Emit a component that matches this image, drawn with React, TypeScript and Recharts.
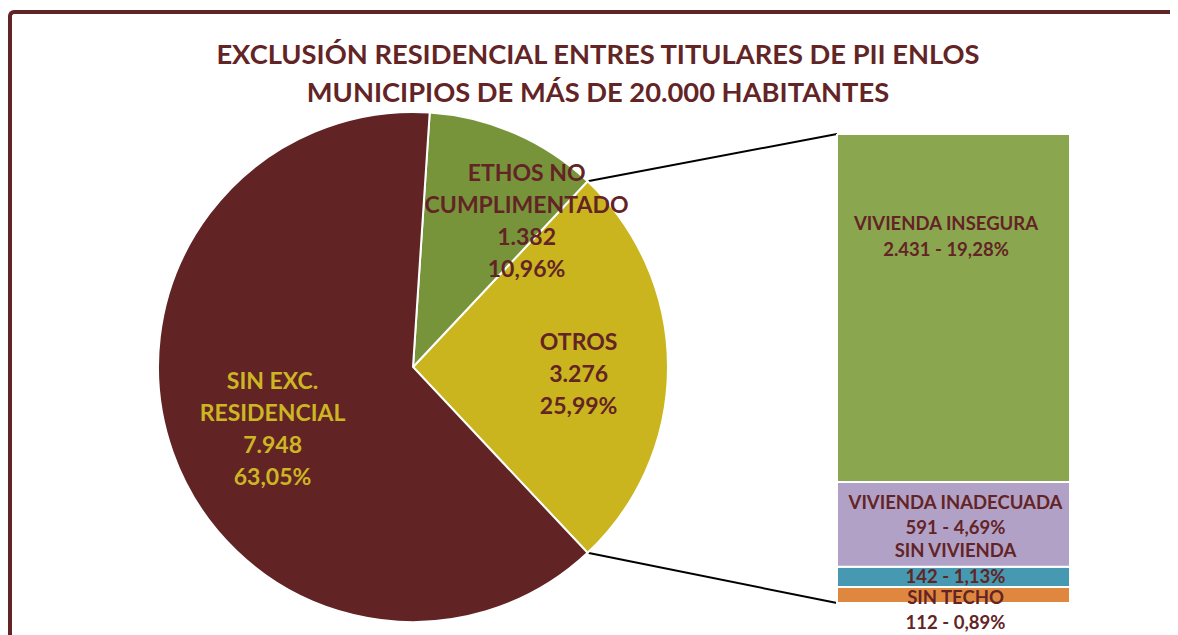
import React from 'react';
import { PieChart, Pie, Cell, BarChart, Bar, XAxis, YAxis } from 'recharts';

// pie: main split (OTROS is broken down in the bar)
const pieNames = ['OTROS', 'ETHOS NO\nCUMPLIMENTADO', 'SIN EXC.\nRESIDENCIAL'];
const pieValues = [3276, 1382, 7948];
const pieColors = ['#CBB51F', '#77943B', '#622325'];

// bar: breakdown of OTROS, bottom to top
const barNames = ['SIN TECHO', 'SIN VIVIENDA', 'VIVIENDA INADECUADA', 'VIVIENDA INSEGURA'];
const barValues = [112, 142, 591, 2431];
const barColors = ['#E0873F', '#4699B0', '#B2A1C7', '#8AA74F'];

const TITLE = ['EXCLUSIÓN RESIDENCIAL ENTRES TITULARES DE PII ENLOS', 'MUNICIPIOS DE MÁS DE 20.000 HABITANTES'];
const MAROON = '#632426';
const FONT = 'Lato, "Open Sans", sans-serif';

const total = pieValues.reduce((a, b) => a + b, 0);
const otrosTotal = barValues.reduce((a, b) => a + b, 0);

const fmtInt = (v: number) => String(v).replace(/\B(?=(\d{3})+(?!\d))/g, '.');
const fmtPct = (v: number) => ((v / total) * 100).toFixed(2).replace('.', ',') + '%';

const pieData = pieNames.map((name, i) => ({ name, value: pieValues[i] }));
const barRow: Record<string, number | string> = { name: 'OTROS' };
barNames.forEach((n, i) => { barRow[n] = barValues[i]; });
const barData = [barRow];

// layout
const PIE_CX = 405;
const PIE_CY = 359;
const PIE_R = 255;
const BAR_LEFT = 829;
const BAR_TOP = 126;
const BAR_W = 233;
const BAR_H = 469;
const BAR_EXTRA = 36; // room under the bar for the last label

const otrosHalf = (pieValues[0] / total) * 180;
const startAngle = -otrosHalf;

// label anchors per slice: [radius fraction, angle deg]
const pieLabelPos = [[0.65, -2], [0.73, 52.4], [0.6, 203.4]];
const pieLabelColor = [MAROON, MAROON, '#CDB623'];
// vertical shift of bar labels from segment middle, and x shift
const barLabelDy = [14.5, -14, -10, -72];
const barLabelDx = [2, 2, 2, -7.5];

const RAD = Math.PI / 180;

function PieLabel(props: any) {
  const { cx, cy, outerRadius, index } = props;
  const [f, a] = pieLabelPos[index];
  const x = cx + outerRadius * f * Math.cos(a * RAD);
  const y = cy - outerRadius * f * Math.sin(a * RAD);
  const lines = [...pieNames[index].split('\n'), fmtInt(pieValues[index]), fmtPct(pieValues[index])];
  const lh = 32;
  const y0 = y - ((lines.length - 1) * lh) / 2;
  return (
    <text x={x} y={y0} textAnchor="middle" dominantBaseline="central" fill={pieLabelColor[index]}
      fontSize={23} fontWeight={700} fontFamily={FONT}>
      {lines.map((l, i) => (
        <tspan key={i} x={x} y={y0 + i * lh}>{l}</tspan>
      ))}
    </text>
  );
}

function makeBarLabel(idx: number) {
  return (props: any) => {
    const { x, y, width, height } = props;
    const cx = x + width / 2 + barLabelDx[idx];
    const cy = y + height / 2 + barLabelDy[idx];
    const lh = 25.5;
    return (
      <text x={cx} y={cy} textAnchor="middle" dominantBaseline="central" fill={MAROON}
        fontSize={18.5} fontWeight={700} fontFamily={FONT}>
        <tspan x={cx} y={cy - lh / 2}>{barNames[idx]}</tspan>
        <tspan x={cx} y={cy + lh / 2}>{fmtInt(barValues[idx]) + ' - ' + fmtPct(barValues[idx])}</tspan>
      </text>
    );
  };
}

export default function App() {
  const p1 = {
    x: PIE_CX + PIE_R * Math.cos(otrosHalf * RAD),
    y: PIE_CY - PIE_R * Math.sin(otrosHalf * RAD),
  };
  const p2 = {
    x: PIE_CX + PIE_R * Math.cos(-otrosHalf * RAD),
    y: PIE_CY - PIE_R * Math.sin(-otrosHalf * RAD),
  };

  return (
    <div style={{ position: 'relative', width: 1170, height: 627, overflow: 'hidden', fontFamily: FONT, background: '#fff' }}>
      {/* frame: only top and left edges are visible in the crop */}
      <div style={{
        position: 'absolute', left: 0, top: 2, width: 1300, height: 800,
        borderTop: `4px solid ${MAROON}`, borderLeft: `4px solid ${MAROON}`, borderTopLeftRadius: 6,
      }} />
      <div style={{ position: 'absolute', left: 90, top: 27, width: 1000, textAlign: 'center', color: MAROON, fontWeight: 700, fontSize: 27.3, lineHeight: '38px' }}>
        {TITLE.map((t, i) => <div key={i}>{t}</div>)}
      </div>

      <svg style={{ position: 'absolute', left: 0, top: 0 }} width={1170} height={627}>
        <line x1={p1.x} y1={p1.y} x2={BAR_LEFT} y2={BAR_TOP} stroke="#000" strokeWidth={2} />
        <line x1={p2.x} y1={p2.y} x2={BAR_LEFT} y2={BAR_TOP + BAR_H} stroke="#000" strokeWidth={2} />
      </svg>

      <div style={{ position: 'absolute', left: 0, top: 0 }}>
        <PieChart width={720} height={627} margin={{ top: 0, right: 0, bottom: 0, left: 0 }}>
          <Pie data={pieData} dataKey="value" nameKey="name" cx={PIE_CX} cy={PIE_CY} outerRadius={PIE_R}
            startAngle={startAngle} endAngle={startAngle + 360} stroke="#fff" strokeWidth={2}
            label={PieLabel} labelLine={false} isAnimationActive={false}>
            {pieData.map((d, i) => <Cell key={d.name} fill={pieColors[i]} />)}
          </Pie>
        </PieChart>
      </div>

      <div style={{ position: 'absolute', left: BAR_LEFT - 20, top: BAR_TOP }}>
        <BarChart width={BAR_W + 40} height={BAR_H + BAR_EXTRA} data={barData}
          margin={{ top: 0, right: 20, bottom: BAR_EXTRA, left: 20 }} barCategoryGap={0}>
          <XAxis dataKey="name" hide />
          <YAxis type="number" domain={[0, otrosTotal]} hide />
          {barNames.map((n, i) => (
            <Bar key={n} dataKey={n} stackId="a" fill={barColors[i]} stroke="#fff" strokeWidth={2}
              isAnimationActive={false} label={makeBarLabel(i)} />
          ))}
        </BarChart>
      </div>
    </div>
  );
}
